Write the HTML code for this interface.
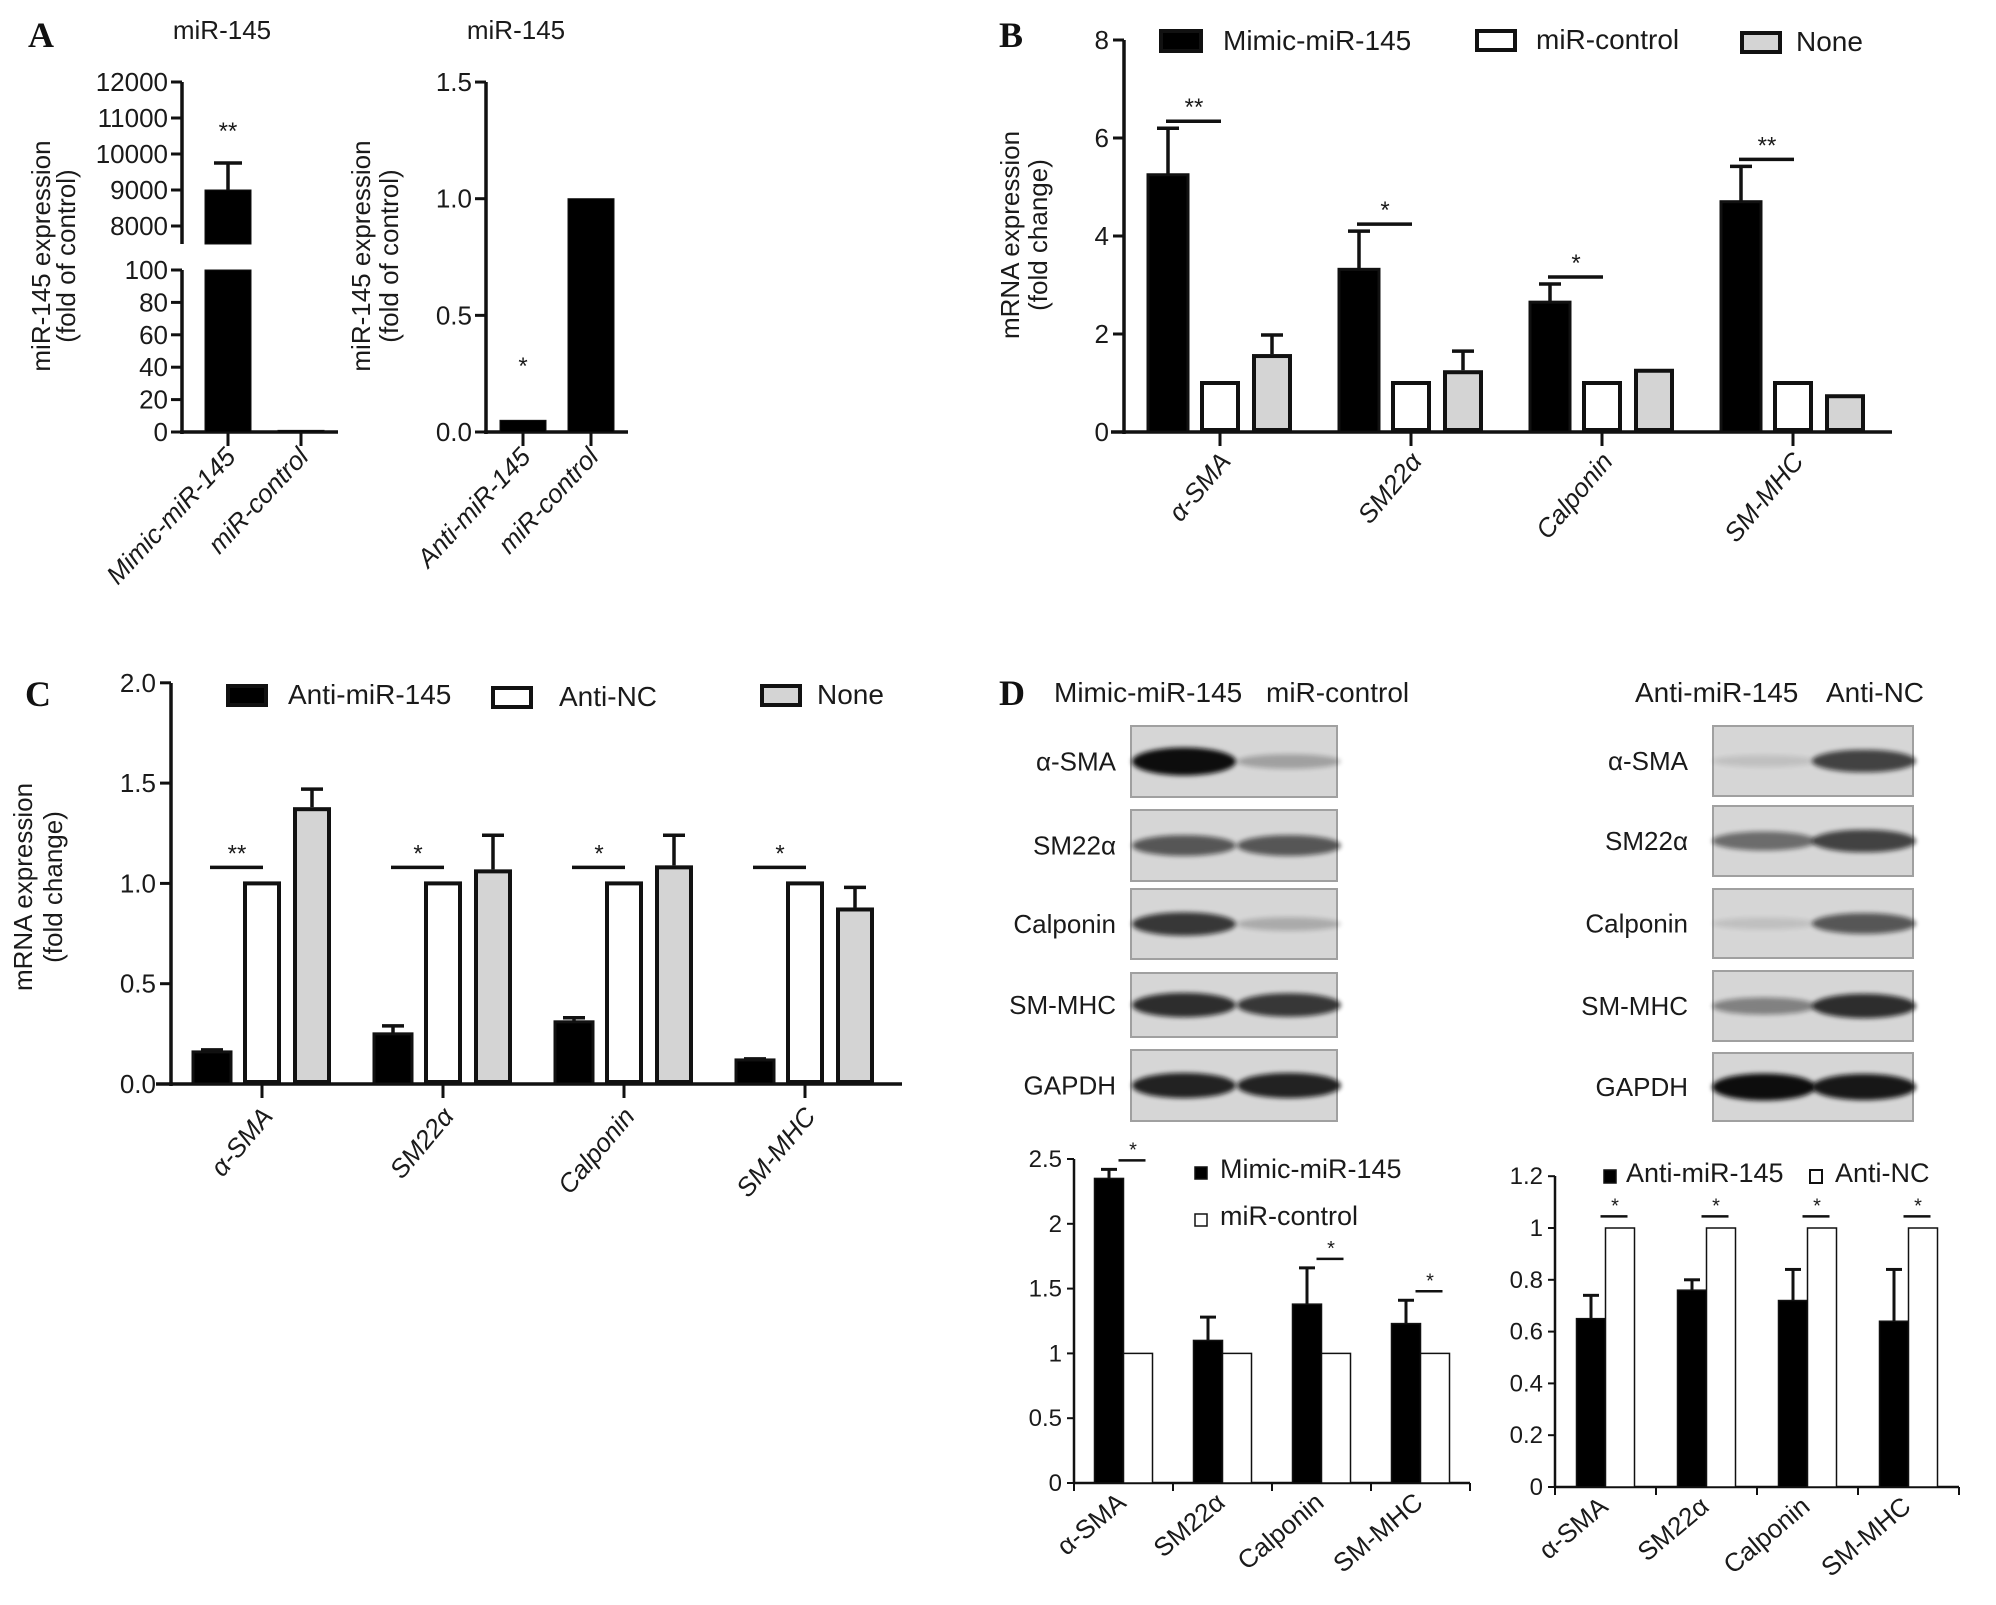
<!DOCTYPE html>
<html><head><meta charset="utf-8"><style>
html,body{margin:0;padding:0;background:#fff}
svg{display:block}
text{font-family:"Liberation Sans",Arial,sans-serif;fill:#1a1a1a}
.pl{font-family:"Liberation Serif",serif;font-weight:bold;font-size:36px;fill:#111}
</style></head><body>
<svg id="fig" xmlns="http://www.w3.org/2000/svg" width="1996" height="1605" viewBox="0 0 1996 1605">
<defs><filter id="blur" x="-20%" y="-100%" width="140%" height="300%"><feGaussianBlur stdDeviation="2.5"/></filter></defs>
<text class="pl" x="28" y="47">A</text>
<text class="pl" x="999" y="47">B</text>
<text class="pl" x="25" y="706">C</text>
<text class="pl" x="999" y="705">D</text>
<text x="222" y="39" font-size="26" text-anchor="middle">miR-145</text>
<text x="516" y="39" font-size="26" text-anchor="middle">miR-145</text>
<g id="g"></g>
</svg>
<script>
// ---------- data ----------
const genes = ['α-SMA','SM22α','Calponin','SM-MHC'];
const a1Cats = ['Mimic-miR-145','miR-control'];
const a1Vals = [9000, 1];
const a1Err = [9750, 1];
const a1TicksUpper = [8000, 9000, 10000, 11000, 12000];
const a1TicksLower = [0, 20, 40, 60, 80, 100];
const a1Sig = ['**',''];
const a2Cats = ['Anti-miR-145','miR-control'];
const a2Vals = [0.05, 1.0];
const a2Err = [0.055, 1.0];
const a2Ticks = ['0.0','0.5','1.0','1.5'];
const a2Sig = ['*',''];
const bMimic = [5.25, 3.32, 2.65, 4.7];
const bMimicErr = [6.2, 4.1, 3.02, 5.42];
const bCtrl = [1, 1, 1, 1];
const bNone = [1.55, 1.22, 1.25, 0.73];
const bNoneErr = [1.98, 1.65, 1.25, 0.77];
const bSig = ['**','*','*','**'];
const bTicks = [0, 2, 4, 6, 8];
const cAnti = [0.16, 0.25, 0.31, 0.12];
const cAntiErr = [0.17, 0.29, 0.33, 0.125];
const cNC = [1, 1, 1, 1];
const cNone = [1.37, 1.06, 1.08, 0.87];
const cNoneErr = [1.47, 1.24, 1.24, 0.98];
const cSig = ['**','*','*','*'];
const cTicks = ['0.0','0.5','1.0','1.5','2.0'];
const dMimic = [2.35, 1.1, 1.38, 1.23];
const dMimicErr = [2.42, 1.28, 1.66, 1.41];
const dCtrl = [1, 1, 1, 1];
const d1Sig = ['*','','*','*'];
const d1Ticks = ['0','0.5','1','1.5','2','2.5'];
const dAnti = [0.65, 0.76, 0.72, 0.64];
const dAntiErr = [0.74, 0.8, 0.84, 0.84];
const dNC = [1, 1, 1, 1];
const d2Sig = ['*','*','*','*'];
const d2Ticks = ['0','0.2','0.4','0.6','0.8','1','1.2'];
const blotRows = ['α-SMA','SM22α','Calponin','SM-MHC','GAPDH'];
const blotLeftInt = [[1.0,0.25],[0.6,0.6],[0.75,0.2],[0.8,0.75],[0.85,0.85]];
const blotRightInt = [[0.1,0.7],[0.5,0.7],[0.1,0.6],[0.4,0.8],[0.95,0.9]];

// ---------- helpers ----------
const NS = 'http://www.w3.org/2000/svg';
const root = document.getElementById('g');
function el(tag, attrs, name, parent) {
  const e = document.createElementNS(NS, tag);
  for (const k in attrs) e.setAttribute(k, attrs[k]);
  
  
  (parent || root).appendChild(e);
  return e;
}
function line(x1, y1, x2, y2, w, name) {
  return el('line', {x1, y1, x2, y2, stroke: '#111', 'stroke-width': w}, name);
}
function txt(x, y, s, size, name, extra) {
  const t = el('text', Object.assign({x, y, 'font-size': size}, extra || {}), name);
  t.textContent = s;
  return t;
}
function bar(x, w, y0, y1, fill, sw, name) {
  return el('rect', {x, y: Math.min(y0, y1), width: w, height: Math.max(Math.abs(y1 - y0), 1.5), fill, stroke: '#111', 'stroke-width': sw}, name);
}
function errbar(cx, yTop, yBar, cap, w, name) {
  if (yBar - yTop < 1) return;
  line(cx, yBar, cx, yTop, w, name);
  line(cx - cap / 2, yTop, cx + cap / 2, yTop, w, name + '-cap');
}
function rotLabel(x, y, s, size, ang, italic, name) {
  const t = el('text', {x: 0, y: 0, 'font-size': size, 'text-anchor': 'end', transform: `translate(${x},${y}) rotate(${ang})`, 'font-style': italic ? 'italic' : 'normal'}, name);
  t.textContent = s;
}
function ylab(x1, x2, cy, l1, l2, size, name) {
  txt(0, 0, l1, size, name, {'text-anchor': 'middle', transform: `translate(${x1},${cy}) rotate(-90)`});
  txt(0, 0, l2, size, name + '-sub', {'text-anchor': 'middle', transform: `translate(${x2},${cy}) rotate(-90)`});
}

// ---------- Panel A1 (broken axis) ----------
(function () {
  const ax = 182, base = 432;
  function y(v) { return v <= 100 ? base - v * 1.62 : 226 - (v - 8000) * 0.036; }
  line(ax, 82, ax, 244, 3.5, 'a1-y-axis-upper');
  line(ax, 270, ax, base + 2, 3.5, 'a1-y-axis-lower');
  a1TicksUpper.forEach(v => { line(ax - 11, y(v), ax, y(v), 3, 'a1-y-tick'); txt(ax - 14, y(v) + 9, String(v), 26, 'a1-y-tick-label', {'text-anchor': 'end'}); });
  a1TicksLower.forEach(v => { line(ax - 11, y(v), ax, y(v), 3, 'a1-y-tick'); txt(ax - 14, y(v) + 9, String(v), 26, 'a1-y-tick-label', {'text-anchor': 'end'}); });
  line(ax - 2, base, 338, base, 3.5, 'a1-x-axis');
  const cx = [228, 301];
  a1Cats.forEach((c, i) => {
    line(cx[i], base, cx[i], base + 14, 3, 'a1-x-tick');
    rotLabel(cx[i] + 9, base + 26, c, 26, -47, true, 'a1-x-tick-label');
    const v = a1Vals[i];
    if (v > 100) {
      bar(cx[i] - 23, 46, y(v), 244, '#000', 1, 'a1-bar-upper');
      bar(cx[i] - 23, 46, 270, base, '#000', 1, 'a1-bar-lower');
    } else {
      bar(cx[i] - 23, 46, y(v), base, '#000', 1, 'a1-bar');
    }
    errbar(cx[i], y(a1Err[i]), y(v), 28, 3.5, 'a1-error-bar');
    if (a1Sig[i]) txt(cx[i], y(a1Err[i]) - 24, a1Sig[i], 24, 'a1-significance', {'text-anchor': 'middle'});
  });
  ylab(50, 75, 256, 'miR-145 expression', '(fold of control)', 26, 'a1-y-axis-title');
})();

// ---------- Panel A2 ----------
(function () {
  const ax = 486, base = 432, k = 233.3;
  const y = v => base - v * k;
  line(ax, 82, ax, base + 2, 3.5, 'a2-y-axis');
  a2Ticks.forEach(s => { const v = parseFloat(s); line(ax - 11, y(v), ax, y(v), 3, 'a2-y-tick'); txt(ax - 14, y(v) + 9, s, 26, 'a2-y-tick-label', {'text-anchor': 'end'}); });
  line(ax - 2, base, 628, base, 3.5, 'a2-x-axis');
  const cx = [523, 591];
  a2Cats.forEach((c, i) => {
    line(cx[i], base, cx[i], base + 14, 3, 'a2-x-tick');
    rotLabel(cx[i] + 9, base + 26, c, 26, -47, true, 'a2-x-tick-label');
    bar(cx[i] - 23, 46, y(a2Vals[i]), base, '#000', 1, 'a2-bar');
    if (a2Sig[i]) txt(cx[i], y(a2Err[i]) - 45, a2Sig[i], 24, 'a2-significance', {'text-anchor': 'middle'});
  });
  ylab(370, 398, 256, 'miR-145 expression', '(fold of control)', 26, 'a2-y-axis-title');
})();

// ---------- grouped 3-bar chart (B, C) ----------
function triChart(p, s1, e1, s2, s3, e3, sig, ticks, pre) {
  const y = v => p.base - v * p.k;
  line(p.ax, p.top, p.ax, p.base + 2, 3.5, pre + '-y-axis');
  ticks.forEach(t => { const v = parseFloat(t); line(p.ax - 11, y(v), p.ax, y(v), 3, pre + '-y-tick'); txt(p.ax - 15, y(v) + 9, String(t), 26, pre + '-y-tick-label', {'text-anchor': 'end'}); });
  line(p.x0, p.base, p.x1, p.base, 3.5, pre + '-x-axis');
  genes.forEach((gname, i) => {
    const c = p.g0 + i * p.gs;
    line(c, p.base, c, p.base + 14, 3, pre + '-x-tick');
    rotLabel(c + p.lx, p.base + p.ly, gname, 26, -50, true, pre + '-x-tick-label');
    const bw = p.bw, o = p.off;
    bar(c - o - bw / 2, bw, y(s1[i]), p.base, '#000', 3, pre + '-bar-black');
    errbar(c - o, y(e1[i]), y(s1[i]), 22, 3.5, pre + '-error-black');
    bar(c - bw / 2 + 2, bw - 4, y(s2[i]), p.base - 2, '#fff', 4, pre + '-bar-white');
    bar(c + o - bw / 2 + 2, bw - 4, y(s3[i]), p.base - 2, '#d4d4d4', 4, pre + '-bar-gray');
    errbar(c + o, y(e3[i]), y(s3[i]) - 2, 22, 3.5, pre + '-error-gray');
    const ly = p.sigFixed ? y(p.sigFixed) : y(e1[i]) - 7;
    line(c - o - 2, ly, c + 1, ly, 3.5, pre + '-significance-line');
    txt(c - o / 2, ly - 6, sig[i], 24, pre + '-significance', {'text-anchor': 'middle'});
  });
}
triChart({ax: 1124, top: 40, base: 432, k: 49, x0: 1111, x1: 1892, g0: 1220, gs: 191, bw: 40, off: 52, lx: 12, ly: 30},
  bMimic, bMimicErr, bCtrl, bNone, bNoneErr, bSig, bTicks, 'b');
ylab(1019, 1047, 235, 'mRNA expression', '(fold change)', 26, 'b-y-axis-title');
triChart({ax: 171, top: 683, base: 1084, k: 200.6, x0: 156, x1: 902, g0: 262, gs: 181, bw: 38, off: 50, lx: 12, ly: 33, sigFixed: 1.08},
  cAnti, cAntiErr, cNC, cNone, cNoneErr, cSig, cTicks, 'c');
ylab(32, 62, 887, 'mRNA expression', '(fold change)', 26, 'c-y-axis-title');

// ---------- D bar charts ----------
function pairChart(p, s1, e1, s2, sig, ticks, pre) {
  const y = v => p.base - v * p.k;
  line(p.ax, p.top, p.ax, p.base + 1, 2.5, pre + '-y-axis');
  ticks.forEach(t => { const v = parseFloat(t); line(p.ax - 7, y(v), p.ax, y(v), 2, pre + '-y-tick'); txt(p.ax - 12, y(v) + 8, t, 24, pre + '-y-tick-label', {'text-anchor': 'end'}); });
  line(p.ax, p.base, p.ax + 4 * p.cw, p.base, 2.5, pre + '-x-axis');
  for (let j = 0; j <= 4; j++) line(p.ax + j * p.cw, p.base, p.ax + j * p.cw, p.base + 8, 2, pre + '-x-tick');
  genes.forEach((gname, i) => {
    const c = p.ax + (i + 0.5) * p.cw;
    rotLabel(c + 4, p.base + 22, gname, 26, -40, false, pre + '-x-tick-label');
    bar(c - p.bw, p.bw, y(s1[i]), p.base, '#000', 1.5, pre + '-bar-black');
    errbar(c - p.bw / 2, y(e1[i]), y(s1[i]), 16, 3, pre + '-error-black');
    bar(c, p.bw, y(s2[i]), p.base, '#fff', 1.5, pre + '-bar-white');
    if (sig[i]) {
      const ly = p.sigFixed ? y(p.sigFixed) : y(e1[i]) - 9;
      line(c - 5, ly, c + p.bw - 7, ly, 2.5, pre + '-significance-line');
      txt(c + p.bw / 2 - 5, ly - 4, sig[i], 20, pre + '-significance', {'text-anchor': 'middle'});
    }
  });
}
pairChart({ax: 1074, top: 1159, base: 1483, k: 129.6, cw: 99, bw: 29}, dMimic, dMimicErr, dCtrl, d1Sig, d1Ticks, 'd1');
pairChart({ax: 1555, top: 1176, base: 1487, k: 259, cw: 101, bw: 29, sigFixed: 1.045}, dAnti, dAntiErr, dNC, d2Sig, d2Ticks, 'd2');

// ---------- legends ----------
function legend(x, y, w, h, fill, sw, label, tx, size, name) {
  el('rect', {x, y, width: w, height: h, fill, stroke: '#111', 'stroke-width': sw}, name + '-swatch');
  txt(tx, y + h - 1, label, size, name + '-label');
}
legend(1161, 31, 40, 20, '#000', 4, 'Mimic-miR-145', 1223, 28, 'b-legend-mimic');
legend(1477, 31, 38, 19, '#fff', 4, 'miR-control', 1536, 28, 'b-legend-control');
legend(1742, 33, 38, 19, '#d4d4d4', 4, 'None', 1796, 28, 'b-legend-none');
legend(228, 686, 38, 19, '#000', 4, 'Anti-miR-145', 288, 28, 'c-legend-anti');
legend(493, 688, 38, 19, '#fff', 4, 'Anti-NC', 559, 28, 'c-legend-nc');
legend(762, 686, 38, 19, '#d4d4d4', 4, 'None', 817, 28, 'c-legend-none');
legend(1195, 1167, 12, 12, '#000', 1.5, 'Mimic-miR-145', 1220, 27, 'd1-legend-mimic');
legend(1195, 1214, 12, 12, '#fff', 1.5, 'miR-control', 1220, 27, 'd1-legend-control');
legend(1604, 1170, 12, 13, '#000', 1.5, 'Anti-miR-145', 1626, 27, 'd2-legend-anti');
legend(1810, 1170, 12, 13, '#fff', 2, 'Anti-NC', 1835, 27, 'd2-legend-nc');

// ---------- blots ----------
txt(1054, 702, 'Mimic-miR-145', 28, 'd-blot-left-lane1-header');
txt(1266, 702, 'miR-control', 28, 'd-blot-left-lane2-header');
txt(1635, 702, 'Anti-miR-145', 28, 'd-blot-right-lane1-header');
txt(1826, 702, 'Anti-NC', 28, 'd-blot-right-lane2-header');
const leftRowsY = [[726, 797], [810, 881], [889, 959], [973, 1037], [1050, 1121]];
const rightRowsY = [[726, 796], [806, 876], [889, 958], [971, 1041], [1053, 1121]];
function blot(x0, x1, rows, ints, lanes, labX, side) {
  blotRows.forEach((r, i) => {
    const [t, b] = rows[i];
    el('rect', {x: x0, y: t, width: x1 - x0, height: b - t, fill: '#d6d6d6', stroke: '#a0a0a0', 'stroke-width': 2}, 'blot-' + side + '-strip');
    const cy = (t + b) / 2;
    lanes.forEach((lx, j) => {
      const a = ints[i][j];
      el('ellipse', {cx: lx, cy, rx: 52, ry: 5 + a * 9, fill: '#111', opacity: Math.min(1, a * 1.05), filter: 'url(#blur)'}, 'blot-' + side + '-band');
    });
    txt(labX, cy + 9, r, 26, 'blot-' + side + '-row-label', {'text-anchor': 'end'});
  });
}
blot(1131, 1337, leftRowsY, blotLeftInt, [1184, 1289], 1116, 'left');
blot(1713, 1913, rightRowsY, blotRightInt, [1764, 1864], 1688, 'right');
</script>
</body></html>
